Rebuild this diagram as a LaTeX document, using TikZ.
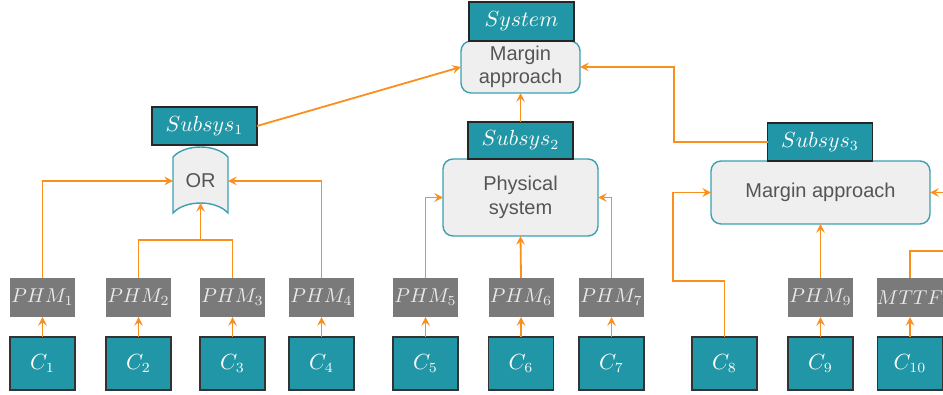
\documentclass[tikz,border=0pt]{standalone}
\usepackage{fontspec}
\setmainfont{Liberation Sans}
\usetikzlibrary{arrows.meta}
\definecolor{tealbox}{RGB}{33,150,166}
\definecolor{phmgray}{RGB}{122,122,122}
\definecolor{wire}{RGB}{250,143,30}
\definecolor{boxfill}{RGB}{239,239,239}
\definecolor{boxline}{RGB}{59,160,178}
\definecolor{boxtext}{RGB}{85,85,85}
\tikzset{
  cbox/.style={draw=black!80,line width=0.6pt,fill=tealbox,text=white,inner sep=0pt,outer sep=0pt,minimum width=32.5pt,minimum height=26.5pt,font=\fontsize{10.5}{12}\selectfont},
  phmbox/.style={fill=phmgray,text=black!8,inner sep=0pt,outer sep=0pt,minimum width=32.5pt,minimum height=19.5pt,font=\fontsize{10}{12}\selectfont},
  subbox/.style={draw=black!85,line width=0.6pt,fill=tealbox,text=white,inner sep=0pt,outer sep=0pt,minimum width=52.5pt,minimum height=19pt,font=\fontsize{10.5}{12}\selectfont},
  roundbox/.style={draw=boxline,line width=0.7pt,fill=boxfill,text=boxtext,rounded corners=5pt,inner sep=0pt,outer sep=0pt,align=center,font=\fontsize{10}{11.8}\selectfont},
  link/.style={draw=wire,line width=0.9pt},
}
\begin{document}
\begin{tikzpicture}[x=0.5pt,y=-0.5pt]
\useasboundingbox (0,0) rectangle (943,395);

% top level
\node[roundbox,minimum width=59.5pt,minimum height=26pt] at (520.5,67) (top) {Margin\\approach};
\node[subbox,minimum height=19.5pt] at (521.5,21.5) (sys) {$System$};

% subsystem 1 : OR
\node[subbox] at (204.5,126) (sub1) {$Subsys_1$};
\draw[draw=boxline,line width=0.7pt,fill=boxfill] (173,157) .. controls (185,143.7) and (216,143.7) .. (228,157) -- (228,213) .. controls (216,199.7) and (185,199.7) .. (173,213) -- cycle;
\node[text=boxtext,inner sep=0pt,outer sep=0pt,minimum width=27.5pt,font=\fontsize{10}{11.8}\selectfont] at (200.5,181) (or) {OR};
\coordinate (orbot) at (200.5,203);
\coordinate (join) at (200.5,240);

% subsystem 2 : physical system
\node[roundbox,minimum width=77.5pt,minimum height=38.5pt] at (520.5,197.5) (phys) {Physical\\system};
\node[subbox,minimum height=18.5pt] at (520.5,140.5) (sub2) {$Subsys_2$};

% subsystem 3 : margin approach
\node[roundbox,minimum width=109.5pt,minimum height=31.5pt] at (820.5,192.5) (marg3) {Margin approach};
\node[subbox] at (820,142) (sub3) {$Subsys_3$};
\coordinate (bend3) at (674,67);
\coordinate (bend8) at (673,281);
\coordinate (bend10) at (950,251);

% PHM row
\node[phmbox] at (42.5,297.5) (phm1) {$PHM_1$};
\node[phmbox] at (138.5,297.5) (phm2) {$PHM_2$};
\node[phmbox] at (232.5,297.5) (phm3) {$PHM_3$};
\node[phmbox] at (321.5,297.5) (phm4) {$PHM_4$};
\node[phmbox] at (425.5,297.5) (phm5) {$PHM_5$};
\node[phmbox] at (521,297.5) (phm6) {$PHM_6$};
\node[phmbox] at (611.5,297.5) (phm7) {$PHM_7$};
\node[phmbox] at (820.5,297.5) (phm9) {$PHM_9$};
\node[phmbox] at (910,297.5) (mttf) {$MTTF$};

% components
\node[cbox] at (42.5,363.5) (c1) {$C_1$};
\node[cbox] at (138.5,363.5) (c2) {$C_2$};
\node[cbox] at (232.5,363.5) (c3) {$C_3$};
\node[cbox] at (321.5,363.5) (c4) {$C_4$};
\node[cbox] at (425.5,363.5) (c5) {$C_5$};
\node[cbox] at (521,363.5) (c6) {$C_6$};
\node[cbox] at (611.5,363.5) (c7) {$C_7$};
\node[cbox] at (724.5,363.5) (c8) {$C_8$};
\node[cbox] at (820.5,363.5) (c9) {$C_9$};
\node[cbox] at (910,363.5) (c10) {$C_{10}$};

% connectors
\draw[link,-stealth] (c1)--(phm1);
\draw[link,-stealth] (c2)--(phm2);
\draw[link,-stealth] (c3)--(phm3);
\draw[link,-stealth] (c4)--(phm4);
\draw[link,-stealth] (c5)--(phm5);
\draw[link,-stealth] (c6)--(phm6);
\draw[link,-stealth] (c7)--(phm7);
\draw[link,-stealth] (c9)--(phm9);
\draw[link,-stealth] (c10)--(mttf);

\draw[link,-stealth] (phm1.north) |- (or.west);
\draw[link,-stealth] (phm4.north) |- (or.east);
\draw[link] (phm2.north) |- (join) -| (phm3.north);
\draw[link,-stealth] (join)--(orbot);

\draw[link,-stealth] (phm5.north) |- (phys.west);
\draw[link,-stealth] (phm6.north)--(phys.south);
\draw[link,-stealth] (phm7.north) |- (phys.east);

\draw[link,-stealth] (c8.north) |- (bend8) |- (marg3.west);
\draw[link,-stealth] (phm9.north)--(marg3.south);
\draw[link,-stealth] (mttf.north) |- (bend10) |- (marg3.east);

\draw[link,-stealth] (sub1.east)--(top.west);
\draw[link,-stealth] (sub2.north)--(top.south);
\draw[link,-stealth] (sub3.west) -| (bend3) -- (top.east);
\end{tikzpicture}
\end{document}
